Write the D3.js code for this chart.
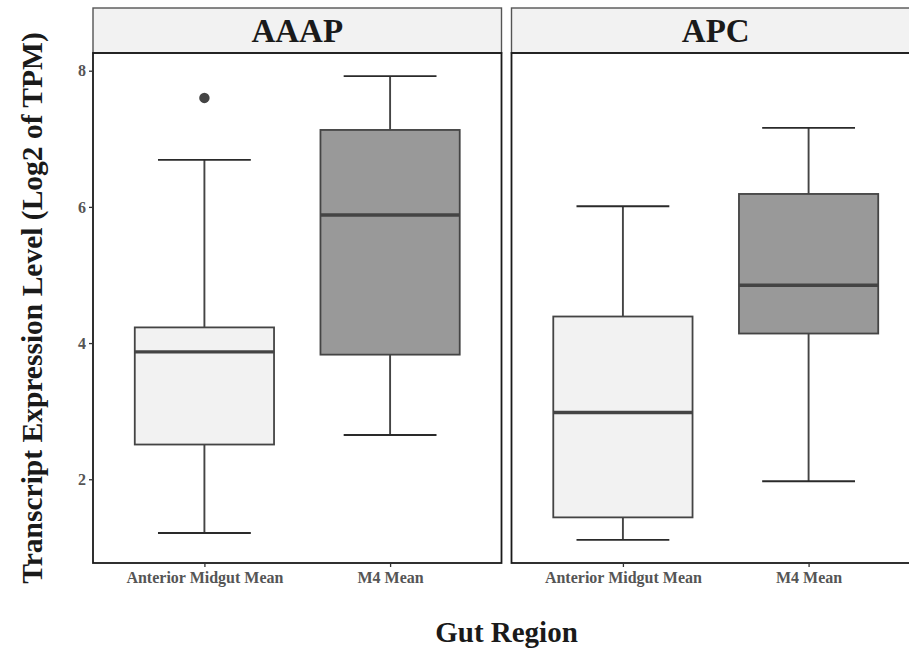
<!DOCTYPE html>
<html>
<head>
<meta charset="utf-8">
<script src="https://cdn.jsdelivr.net/npm/d3@7"></script>
<style>
  body { margin: 0; background: #fff; }
  text { font-family: 'Liberation Serif', 'Times New Roman', serif; font-weight: bold; }
</style>
</head>
<body>
<div id="chart"></div>
<script>
  let facets = ['AAAP', 'APC']
  let regions = ['Anterior Midgut Mean', 'M4 Mean']
  let yTicks = [2, 4, 6, 8]

  // box stats per facet, in order of regions
  let aaapLower = [1.21, 2.65]
  let aaapQ1 = [2.51, 3.83]
  let aaapMedian = [3.87, 5.88]
  let aaapQ3 = [4.23, 7.13]
  let aaapUpper = [6.69, 7.92]
  let aaapOutliers = [[7.6], []]

  let apcLower = [1.11, 1.97]
  let apcQ1 = [1.44, 4.14]
  let apcMedian = [2.98, 4.85]
  let apcQ3 = [4.39, 6.19]
  let apcUpper = [6.01, 7.16]
  let apcOutliers = [[], []]

  let fills = ['#f2f2f2', '#999999'];

(function() {
  let stats = {
    AAAP: regions.map((r, i) => ({ region: r, lo: aaapLower[i], q1: aaapQ1[i], med: aaapMedian[i], q3: aaapQ3[i], hi: aaapUpper[i], out: aaapOutliers[i] })),
    APC: regions.map((r, i) => ({ region: r, lo: apcLower[i], q1: apcQ1[i], med: apcMedian[i], q3: apcQ3[i], hi: apcUpper[i], out: apcOutliers[i] }))
  }

  let width = 909
  let height = 648
  let panelTop = 53
  let panelBottom = 563
  let panelLeft = [93, 511.5]
  let panelWidth = 408.5
  let stripTop = 8

  let svg = d3.select('#chart')
    .append('svg')
    .attr('width', width)
    .attr('height', height)

  let yScale = d3.scaleLinear().domain([0.77, 8.26]).range([panelBottom, panelTop])
  let xScale = d3.scaleBand()
    .domain(regions)
    .range([0, panelWidth])
    .paddingInner(0.25)
    .paddingOuter(0.225)
  let fillScale = d3.scaleOrdinal().domain(regions).range(fills)

  let line = '#444'

  facets.forEach((f, fi) => {
    let g = svg.append('g')
      .attr('transform', `translate(${panelLeft[fi]},0)`)

    // strip
    g.append('rect')
      .attr('x', 0)
      .attr('y', stripTop)
      .attr('width', panelWidth)
      .attr('height', panelTop - stripTop)
      .attr('fill', '#f2f2f2')
      .attr('stroke', '#555')
      .attr('stroke-width', 1.4)
    g.append('text')
      .attr('x', panelWidth / 2)
      .attr('y', 42)
      .attr('text-anchor', 'middle')
      .attr('font-size', 33)
      .attr('fill', '#1a1a1a')
      .text(f)

    let bw = xScale.bandwidth()
    let step = xScale.step()

    let box = g.selectAll('.box')
      .data(stats[f])
      .enter()
      .append('g')
      .attr('class', 'box')
      .attr('transform', d => `translate(${xScale(d.region)},0)`)

    // whiskers
    box.append('line')
      .attr('x1', bw / 2).attr('x2', bw / 2)
      .attr('y1', d => yScale(d.hi)).attr('y2', d => yScale(d.q3))
      .attr('stroke', line).attr('stroke-width', 1.9)
    box.append('line')
      .attr('x1', bw / 2).attr('x2', bw / 2)
      .attr('y1', d => yScale(d.q1)).attr('y2', d => yScale(d.lo))
      .attr('stroke', line).attr('stroke-width', 1.9)
    // caps (errorbar width 0.5)
    box.selectAll('.cap')
      .data(d => [d.hi, d.lo])
      .enter()
      .append('line')
      .attr('x1', bw / 2 - step * 0.25).attr('x2', bw / 2 + step * 0.25)
      .attr('y1', v => yScale(v)).attr('y2', v => yScale(v))
      .attr('stroke', '#2a2a2a').attr('stroke-width', 1.9)

    box.append('rect')
      .attr('x', 0)
      .attr('width', bw)
      .attr('y', d => yScale(d.q3))
      .attr('height', d => yScale(d.q1) - yScale(d.q3))
      .attr('fill', d => fillScale(d.region))
      .attr('stroke', line)
      .attr('stroke-width', 1.8)
    box.append('line')
      .attr('x1', 0).attr('x2', bw)
      .attr('y1', d => yScale(d.med)).attr('y2', d => yScale(d.med))
      .attr('stroke', line).attr('stroke-width', 3.4)

    box.selectAll('.out')
      .data(d => d.out)
      .enter()
      .append('circle')
      .attr('cx', bw / 2)
      .attr('cy', v => yScale(v))
      .attr('r', 5.2)
      .attr('fill', '#444')

    // panel border
    g.append('rect')
      .attr('x', 0)
      .attr('y', panelTop)
      .attr('width', panelWidth)
      .attr('height', panelBottom - panelTop)
      .attr('fill', 'none')
      .attr('stroke', '#1a1a1a')
      .attr('stroke-width', 1.8)

    // x axis
    let xAxis = d3.axisBottom(d3.scalePoint().domain(regions).range([xScale(regions[0]) + bw / 2, xScale(regions[1]) + bw / 2]))
      .tickSize(4)
      .tickPadding(5)
    let xg = g.append('g')
      .attr('transform', `translate(0,${panelBottom})`)
      .call(xAxis)
    xg.select('.domain').remove()
    xg.selectAll('line').attr('stroke', '#333').attr('stroke-width', 1.3)
    xg.selectAll('text')
      .attr('font-size', 16)
      .attr('fill', '#555')

    if (fi === 0) {
      let yg = g.append('g')
        .call(d3.axisLeft(yScale).tickValues(yTicks).tickSize(4).tickPadding(3))
      yg.select('.domain').remove()
      yg.selectAll('line').attr('stroke', '#333').attr('stroke-width', 1.3)
      yg.selectAll('text')
        .attr('font-size', 16)
        .attr('fill', '#555')
    }
  })

  svg.append('text')
    .attr('x', 506.5)
    .attr('y', 642)
    .attr('text-anchor', 'middle')
    .attr('font-size', 29)
    .attr('fill', '#1a1a1a')
    .text('Gut Region')

  svg.append('text')
    .attr('transform', `translate(42,${(panelTop + panelBottom) / 2}) rotate(-90)`)
    .attr('text-anchor', 'middle')
    .attr('font-size', 29.5)
    .attr('fill', '#1a1a1a')
    .text('Transcript Expression Level (Log2 of TPM)')
})()
</script>
</body>
</html>
